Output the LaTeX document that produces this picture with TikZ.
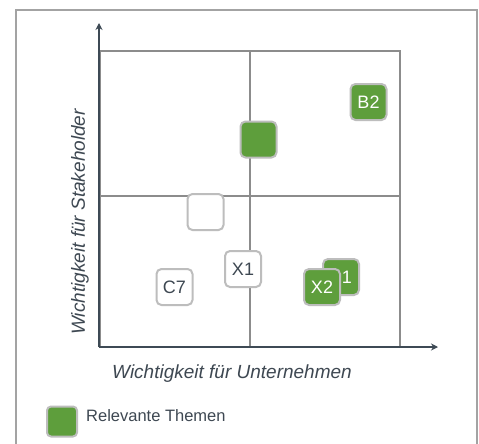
\documentclass[tikz,border=0pt]{standalone}
\usepackage{fontspec}
\setmainfont{Liberation Sans}
\usetikzlibrary{arrows.meta}
\definecolor{txt}{HTML}{3E4852}
\definecolor{grn}{HTML}{5E9E3C}
\definecolor{bord}{HTML}{BDBDBD}
\definecolor{frm}{HTML}{A3A3A3}
\definecolor{grd}{HTML}{8C8C8C}
\definecolor{axc}{HTML}{3E4A55}
\tikzset{
  topic/.style={draw=bord, line width=2pt, rounded corners=5pt, minimum width=36pt, minimum height=36pt, inner sep=0pt, font=\fontsize{18}{18}\selectfont, text=txt, fill=white},
  reltopic/.style={topic, fill=grn, text=white},
  gridline/.style={draw=grd, line width=1.1pt},
  axis/.style={draw=axc, line width=1.8pt, -{Stealth[length=7pt,width=7pt]}},
  axlabel/.style={font=\fontsize{19}{19}\selectfont\itshape, text=txt, inner sep=0pt}
}
\begin{document}
\begin{tikzpicture}[x=1pt,y=-1pt]
\useasboundingbox (0,0) rectangle (479,444);
\clip (0,0) rectangle (479,444);
\fill[white] (0,0) rectangle (479,444);
% frame
\draw[frm, line width=2pt] (16,460) -- (16,10) -- (477,10) -- (477,460);
% grid
\coordinate (G1) at (100,51);
\coordinate (G2) at (400,347);
\draw[gridline] (G1) rectangle (G2);
\coordinate (VT) at (250,51);
\coordinate (VB) at (250,347);
\coordinate (HL) at (100,196);
\coordinate (HR) at (400,196);
\draw[gridline] (VT) -- (VB);
\draw[gridline] (HL) -- (HR);
% axes
\coordinate (O) at (99,347);
\coordinate (YT) at (99,23);
\coordinate (XT) at (438,347);
\draw[axis] (O) -- (YT);
\draw[axis] (O) -- (XT);
% axis labels
\node[axlabel] (xl) at (232,374) {Wichtigkeit für Unternehmen};
\node[axlabel, rotate=90] (yl) at (80,222) {Wichtigkeit für Stakeholder};
% topics
\node[reltopic] (b2) at (368.5,102) {B2};
\node[reltopic] (g1) at (258.5,139.5) {};
\node[topic] (w1) at (205.5,212) {};
\node[topic] (x1) at (243,269) {X1};
\node[topic] (c7) at (174.5,287) {C7};
\node[reltopic] (a1) at (341,277) {};
\node[text=white, font=\fontsize{18}{18}\selectfont, inner sep=0pt] (a1t) at (347,277.5) {1};
\node[reltopic] (x2) at (322,287) {X2};
% legend
\node[reltopic, minimum width=30pt, minimum height=30pt, rounded corners=4pt] (lg) at (62,421.5) {};
\node[anchor=west, font=\fontsize{16.5}{16.5}\selectfont, text=txt, inner sep=0pt] (lgt) at (86,416) {Relevante Themen};
\end{tikzpicture}
\end{document}
